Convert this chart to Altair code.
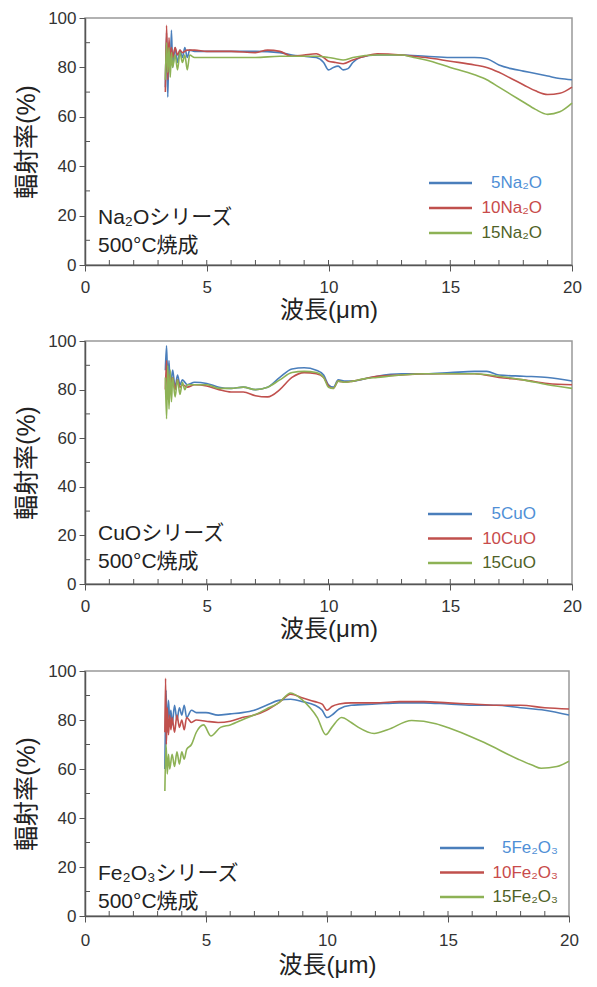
import altair as alt
import pandas as pd

FONT = "Liberation Sans, Noto Sans CJK JP"
JP = "Liberation Sans, Noto Sans CJK JP"

x_ticks = [0, 5, 10, 15, 20]
y_ticks = [0, 20, 40, 60, 80, 100]
x_minor = list(range(1, 20))
y_minor = [10, 30, 50, 70, 90]

line_colors = ["#4a7ebb", "#c0504d", "#8db255"]
text_colors = ["#4f8fd6", "#c84b4b", "#4f6228"]

# ---------------- Panel 1: Na2O ----------------
na_names = ["5Na₂O", "10Na₂O", "15Na₂O"]
na_label = ["Na₂Oシリーズ", "500°C焼成"]
na5_x = [3.30, 3.35, 3.40, 3.45, 3.50, 3.55, 3.60, 3.70, 3.80, 3.90, 4.0, 4.1, 4.2, 4.3, 4.5, 5.0, 6.0, 7.0, 8.0, 8.5, 9.0, 9.5, 9.8, 10.0, 10.2, 10.4, 10.6, 10.8, 11.0, 11.3, 12.0, 13.0, 14.0, 15.0, 16.0, 16.5, 17.0, 17.5, 18.0, 18.5, 19.0, 19.5, 20.0]
na5_y = [72, 94, 68, 90, 78, 95, 80, 88, 82, 87, 84, 88, 84, 87, 86.5, 86.5, 86.5, 86.5, 86, 85, 84.5, 84, 82, 79, 80, 80.5, 79, 79.5, 82, 84, 85, 85, 84.5, 84, 84, 83.5, 81, 79.5, 78.5, 77.5, 76.5, 75.5, 75]
na10_x = [3.30, 3.35, 3.40, 3.45, 3.50, 3.55, 3.60, 3.70, 3.80, 3.90, 4.0, 4.2, 4.5, 5.0, 6.0, 7.0, 7.5, 8.0, 8.5, 9.0, 9.5, 9.8, 10.0, 10.3, 10.6, 11.0, 11.5, 12.0, 13.0, 13.5, 14.0, 15.0, 16.0, 16.5, 17.0, 17.5, 18.0, 18.5, 19.0, 19.5, 20.0]
na10_y = [70, 97, 75, 92, 82, 88, 84, 88, 85, 87, 86, 87, 87, 86.5, 86.5, 86, 87, 86.5, 84.5, 85, 85.5, 84, 82.5, 82, 81.5, 83, 84.5, 85.5, 85, 84.5, 84, 82.5, 81, 80, 78, 75.5, 73, 70.5, 69, 69.5, 72]
na15_x = [3.30, 3.35, 3.40, 3.45, 3.50, 3.55, 3.60, 3.70, 3.80, 3.90, 4.0, 4.1, 4.2, 4.3, 4.5, 5.0, 6.0, 7.0, 8.0, 8.5, 9.0, 9.5, 10.0, 10.3, 10.6, 11.0, 12.0, 13.0, 13.5, 14.0, 15.0, 16.0, 16.5, 17.0, 17.5, 18.0, 18.5, 19.0, 19.5, 20.0]
na15_y = [75, 90, 78, 88, 76, 86, 80, 85, 79, 86, 82, 85, 79, 85, 84, 84, 84, 84, 84.5, 84.5, 84.5, 84.5, 84, 83.5, 83, 84, 85, 85, 84, 83, 80, 77, 75, 72, 69, 66, 63, 61, 62, 65.5]

# ---------------- Panel 2: CuO ----------------
cu_names = ["5CuO", "10CuO", "15CuO"]
cu_label = ["CuOシリーズ", "500°C焼成"]
cu5_x = [3.30, 3.35, 3.40, 3.45, 3.50, 3.60, 3.70, 3.80, 3.90, 4.0, 4.2, 4.5, 5.0, 5.5, 6.0, 6.5, 7.0, 7.5, 8.0, 8.5, 9.0, 9.5, 9.8, 10.0, 10.2, 10.4, 10.7, 11.0, 11.5, 12.0, 13.0, 14.0, 15.0, 16.0, 16.5, 17.0, 18.0, 19.0, 20.0]
cu5_y = [88, 98, 82, 92, 80, 88, 81, 86, 82, 84, 82, 83, 82.5, 81, 80.5, 81, 80, 81, 85, 88.5, 89, 88, 86, 82, 81, 84, 83.5, 83.5, 84.5, 85.5, 86.5, 86.5, 87, 87.5, 87.5, 86, 85.5, 85, 83.5]
cu10_x = [3.30, 3.35, 3.40, 3.45, 3.50, 3.60, 3.70, 3.80, 3.90, 4.0, 4.2, 4.5, 5.0, 5.5, 6.0, 6.5, 7.0, 7.5, 8.0, 8.5, 9.0, 9.5, 9.8, 10.0, 10.2, 10.4, 10.7, 11.0, 11.5, 12.0, 13.0, 14.0, 15.0, 16.0, 17.0, 18.0, 19.0, 20.0]
cu10_y = [80, 92, 76, 86, 82, 85, 80, 84, 81, 82, 81, 82, 81.5, 80, 79, 79, 77.5, 77, 80, 85, 87, 86.5, 85, 81.5, 80.5, 83.5, 83, 83.5, 84.5, 85.5, 86, 86.5, 86.5, 86.5, 85, 84, 82.5, 82]
cu15_x = [3.30, 3.35, 3.40, 3.45, 3.50, 3.55, 3.60, 3.70, 3.80, 3.90, 4.0, 4.1, 4.2, 4.5, 5.0, 5.5, 6.0, 6.5, 7.0, 7.5, 8.0, 8.5, 9.0, 9.5, 9.8, 10.0, 10.2, 10.4, 10.7, 11.0, 11.5, 12.0, 13.0, 14.0, 15.0, 16.0, 17.0, 18.0, 19.0, 20.0]
cu15_y = [85, 68, 90, 72, 88, 75, 85, 77, 84, 78, 83, 80, 82, 82, 82, 80.5, 80.5, 81, 80, 81, 84, 87, 87.5, 87, 85, 81, 80.5, 83.5, 83, 83.5, 84.5, 85, 86, 86.5, 86.5, 86.5, 85.5, 84, 82, 80.5]

# ---------------- Panel 3: Fe2O3 ----------------
fe_names = ["5Fe₂O₃", "10Fe₂O₃", "15Fe₂O₃"]
fe_label = ["Fe₂O₃シリーズ", "500°C焼成"]
fe5_x = [3.30, 3.35, 3.40, 3.45, 3.50, 3.55, 3.60, 3.70, 3.80, 3.90, 4.0, 4.1, 4.2, 4.4, 4.6, 5.0, 5.5, 6.0, 6.5, 7.0, 7.5, 8.0, 8.5, 9.0, 9.5, 9.8, 10.0, 10.2, 10.5, 11.0, 12.0, 13.0, 14.0, 15.0, 16.0, 17.0, 18.0, 19.0, 20.0]
fe5_y = [60, 92, 75, 88, 80, 84, 78, 86, 80, 85, 82, 86, 81, 84, 83, 83, 82, 82.5, 83, 84, 86, 88, 88.5, 87.5, 86, 84, 81, 82, 84.5, 86, 86.5, 87, 87, 86.5, 86, 86, 85, 84, 82]
fe10_x = [3.30, 3.33, 3.36, 3.40, 3.45, 3.50, 3.55, 3.60, 3.70, 3.80, 3.90, 4.0, 4.1, 4.2, 4.4, 4.6, 5.0, 5.5, 6.0, 6.5, 7.0, 7.5, 8.0, 8.5, 9.0, 9.5, 9.8, 10.0, 10.2, 10.5, 11.0, 12.0, 13.0, 14.0, 15.0, 16.0, 17.0, 18.0, 19.0, 20.0]
fe10_y = [75, 97, 70, 85, 74, 82, 76, 81, 75, 82, 77, 80, 76, 81, 79, 80, 79.5, 79, 79.5, 81, 82, 84, 87, 90.5, 89, 87.5, 86.5, 84, 85.5, 86.5, 87, 87, 87.5, 87.5, 87, 86.5, 86, 86, 85, 84.5]
fe15_x = [3.30, 3.35, 3.40, 3.45, 3.50, 3.60, 3.70, 3.80, 3.90, 4.0, 4.1, 4.2, 4.4, 4.6, 4.9, 5.2, 5.6, 6.0, 6.6, 7.1, 7.5, 8.0, 8.5, 9.0, 9.3, 9.6, 9.95, 10.2, 10.6, 11.0, 11.3, 11.95, 12.5, 13.5, 14.5, 15.1, 16.0, 16.5, 17.9, 18.5, 18.85, 19.5, 20.0]
fe15_y = [51, 70, 58, 66, 60, 66, 61, 67, 62, 67, 64, 68, 70, 75, 78, 73.5, 77, 78, 80.5, 82.5, 84.5, 87, 91, 88, 85, 81, 74, 77, 81, 79, 77, 74.5, 76, 79.8, 78.5, 76.5, 73, 70.8, 64, 61.5, 60.3, 61, 63.2]


def make_df(names, xs_list, ys_list):
    frames = []
    for name, xs, ys in zip(names, xs_list, ys_list):
        frames.append(pd.DataFrame({"x": xs, "y": ys, "series": name}))
    return pd.concat(frames, ignore_index=True)


def panel(names, xs_list, ys_list, label_lines, w, h, leg, lab_pad, title_pad, lab_y):
    df = make_df(names, xs_list, ys_list)
    xsc = alt.Scale(domain=[0, 20], nice=False)
    ysc = alt.Scale(domain=[0, 100], nice=False)
    lines = alt.Chart(df).mark_line(strokeWidth=1.6, interpolate="monotone").encode(
        x=alt.X("x:Q", scale=xsc,
                axis=alt.Axis(values=x_ticks, title="波長(μm)", tickSize=6,
                              labelPadding=lab_pad, titlePadding=title_pad,
                              titleFontSize=24, labelFlush=False)),
        y=alt.Y("y:Q", scale=ysc,
                axis=alt.Axis(values=y_ticks, title="輻射率(%)", tickSize=6,
                              labelPadding=3, titlePadding=8, titleFontSize=25)),
        color=alt.Color("series:N", scale=alt.Scale(domain=names, range=line_colors), legend=None),
        order=alt.Order("x:Q"),
        detail="series:N",
    )
    xm = alt.Chart(pd.DataFrame({"m": x_minor})).mark_rule(color="#555", strokeWidth=1).encode(
        x=alt.X("m:Q", scale=xsc), y=alt.value(h), y2=alt.value(h - 5))
    ym = alt.Chart(pd.DataFrame({"m": y_minor})).mark_rule(color="#555", strokeWidth=1).encode(
        y=alt.Y("m:Q", scale=ysc), x=alt.value(0), x2=alt.value(5))
    layers = [xm, ym, lines]
    lx1, lx2, ly0, dy, tx = leg
    for i, name in enumerate(names):
        d = pd.DataFrame({"label": [name]})
        layers.append(alt.Chart(d).mark_rule(color=line_colors[i], strokeWidth=2.5).encode(
            x=alt.value(lx1), x2=alt.value(lx2), y=alt.value(ly0 + i * dy)))
        layers.append(alt.Chart(d).mark_text(align="right", baseline="middle", fontSize=17,
                                             font=FONT, color=text_colors[i]).encode(
            x=alt.value(tx), y=alt.value(ly0 + i * dy), text="label:N"))
    for j, t in enumerate(label_lines):
        d = pd.DataFrame({"label": [t]})
        layers.append(alt.Chart(d).mark_text(align="left", baseline="middle", fontSize=21,
                                             font=JP, color="#222").encode(
            x=alt.value(13), y=alt.value(h - lab_y + j * 28), text="label:N"))
    return alt.layer(*layers).properties(width=w, height=h)


p1 = panel(na_names, [na5_x, na10_x, na15_x], [na5_y, na10_y, na15_y], na_label,
           487, 247, (344, 387, 165, 25, 457), 8, 3, 47)
p2 = panel(cu_names, [cu5_x, cu10_x, cu15_x], [cu5_y, cu10_y, cu15_y], cu_label,
           487, 243, (343, 387, 173, 24.5, 451), 8, 3, 50)
p3 = panel(fe_names, [fe5_x, fe10_x, fe15_x], [fe5_y, fe10_y, fe15_y], fe_label,
           484, 245, (355, 399, 177, 24.5, 473), 10, 5, 42)

top = alt.vconcat(p1, p2, spacing=8)
chart = alt.vconcat(top, p3, spacing=19).properties(
    padding={"left": 5, "top": 0, "right": 5, "bottom": 5}
).configure_axis(
    labelFont=FONT, titleFont=JP, labelFontSize=17, labelColor="#333",
    titleColor="#222", titleFontWeight="normal", domainColor="#555",
    tickColor="#555", domainWidth=1.5, grid=False,
).configure_view(stroke="#999", strokeWidth=1.5)

chart.save("out.html", embed_options={"renderer": "svg", "actions": False})
